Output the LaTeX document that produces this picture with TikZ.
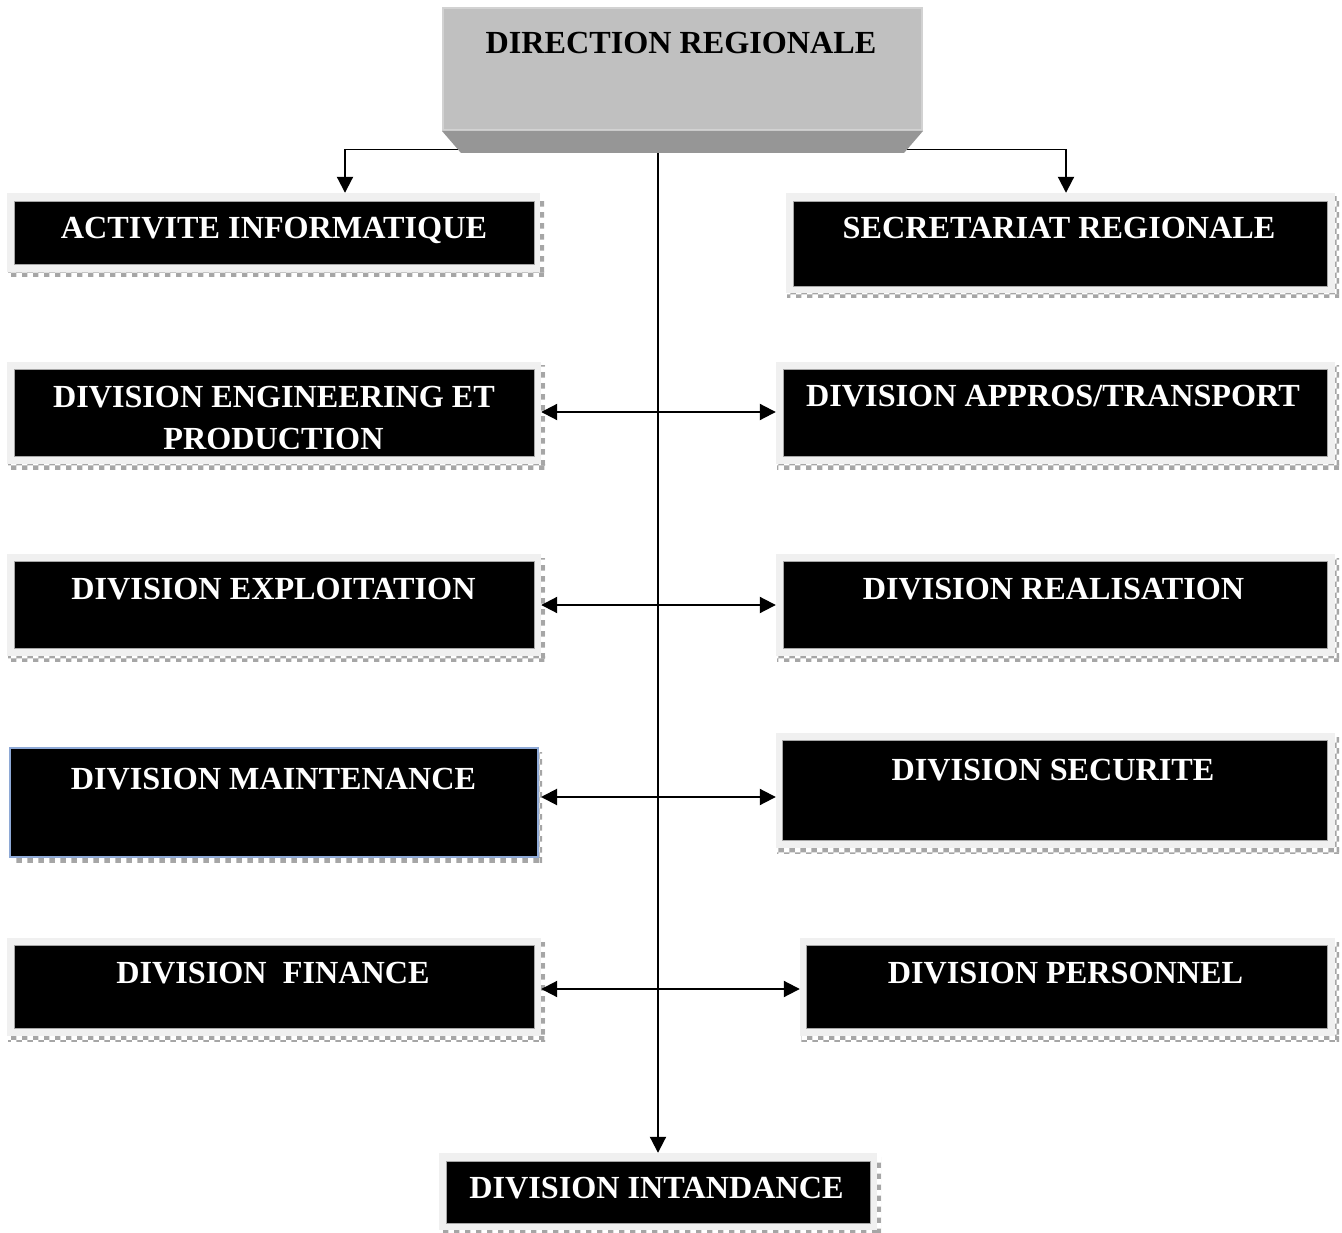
\documentclass[tikz,border=0pt]{standalone}
\usepackage{fontspec}
\setmainfont{Liberation Serif}
\usetikzlibrary{arrows.meta,fit,patterns,calc}
\definecolor{framegray}{HTML}{F0F0F0}
\definecolor{facegray}{HTML}{C0C0C0}
\definecolor{faceedge}{HTML}{D2D2D2}
\definecolor{bevelgray}{HTML}{969696}
\definecolor{mainblue}{HTML}{8EA9D6}
\tikzset{
  framebox/.style={fill=framegray, draw=none, inner sep=0pt},
  blackbox/.style={fill=black, draw=gray!70, line width=0.8pt, inner sep=0pt},
  shadowpat/.style={pattern=checkerboard, pattern color=gray!70},
  lbl/.style={text=white, font=\fontsize{32.2}{37}\selectfont\bfseries, inner sep=0pt, anchor=base},
  darklbl/.style={text=black, font=\fontsize{32.2}{37}\selectfont\bfseries, inner sep=0pt, anchor=base},
  arr/.style={line width=2pt, -{Triangle[width=16pt,length=16pt]}},
  dblarr/.style={line width=2pt, {Triangle[width=16pt,length=16pt]}-{Triangle[width=16pt,length=16pt]}},
}
% name, frame x1,y1,x2,y2, black x1,y1,x2,y2
\newcommand\unitbox[9]{%
  \fill[shadowpat] (#2+1,#5) rectangle (#4+4,#5+5);
  \fill[shadowpat] (#4,#3+4) rectangle (#4+4,#5+5);
  \node[framebox, fit={(#2,#3) (#4,#5)}] (#1f) {};
  \node[blackbox, fit={(#6,#7) (#8,#9)}] (#1) {};
}
\begin{document}
\begin{tikzpicture}[x=1pt,y=-1pt]
\useasboundingbox (0,0) rectangle (1342,1233);

% units
\unitbox{ai}{7}{193}{540}{272}{14}{201}{534}{264}
\unitbox{sr}{786}{193}{1335}{293}{793}{201}{1327}{286}
\unitbox{eng}{7}{362}{541}{464}{14}{369}{534}{456}
\unitbox{app}{776}{362}{1335}{464}{783}{369}{1327}{456}
\unitbox{exp}{7}{554}{541}{656}{14}{561}{534}{648}
\unitbox{real}{776}{554}{1335}{656}{783}{561}{1327}{648}
\unitbox{sec}{776}{733}{1335}{848}{782}{740}{1327}{840}
\unitbox{fin}{7}{938}{541}{1036}{14}{945}{534}{1028}
\unitbox{pers}{800}{938}{1335}{1036}{806}{945}{1327}{1028}
\unitbox{int}{439}{1153}{877}{1230}{446}{1161}{870}{1223}

% maintenance (blue border, no frame)
\fill[shadowpat] (12,857) rectangle (542,862);
\fill[shadowpat] (538,752) rectangle (542,862);
\node[blackbox, draw=mainblue, line width=2pt, fit={(10,748) (538,857)}] (main) {};

% labels
\node[lbl] (ait) at (274,238.5) {ACTIVITE INFORMATIQUE};
\node[lbl] (srt) at (1059,238.5) {SECRETARIAT REGIONALE};
\node[lbl] (engt) at (274,407.5) {DIVISION ENGINEERING ET};
\begin{scope}
  \clip (14,369) rectangle (534,448);
  \node[lbl] (engt2) at (273.5,449) {PRODUCTION};
\end{scope}
\node[lbl] (appt) at (1053,406.5) {DIVISION APPROS/TRANSPORT};
\node[lbl] (expt) at (273.5,599.5) {DIVISION EXPLOITATION};
\node[lbl] (realt) at (1053.5,599.5) {DIVISION REALISATION};
\node[lbl] (maint) at (273.5,789.5) {DIVISION MAINTENANCE};
\node[lbl] (sect) at (1053,780.5) {DIVISION SECURITE};
\node[lbl] (fint) at (273,983.5) {DIVISION\ \ FINANCE};
\node[lbl] (perst) at (1065.5,983.5) {DIVISION PERSONNEL};
\node[lbl] (intt) at (656.5,1198.5) {DIVISION INTANDANCE};

% connectors
\coordinate (tl) at (345,149.5);
\coordinate (tr) at (1066,149.5);
\coordinate (dtop) at (658,152);
\draw[line width=1.6pt] (tl) -- (tr);
\draw[arr] (tl) -- (tl |- aif.north);
\draw[arr] (tr) -- (tr |- srf.north);
\draw[arr] (dtop) -- (intf.north);

\coordinate (r1) at (0,412);
\coordinate (r2) at (0,605);
\coordinate (r3) at (0,797);
\coordinate (r4) at (0,989);
\draw[dblarr] (engf.east |- r1) -- (appf.west |- r1);
\draw[dblarr] (expf.east |- r2) -- (realf.west |- r2);
\draw[dblarr] ([xshift=2pt]main.east |- r3) -- (secf.west |- r3);
\draw[dblarr] (finf.east |- r4) -- (persf.west |- r4);

% top box
\node[fill=facegray, draw=faceedge, line width=2pt, inner sep=0pt, fit={(443,8) (922,130)}] (dr) {};
\path[fill=bevelgray] (dr.south west) -- (dr.south east) -- ++(-19,22) -- ($(dr.south west)+(19,22)$) -- cycle;
\node[darklbl] (drt) at (681,53.5) {DIRECTION REGIONALE};
\end{tikzpicture}
\end{document}
